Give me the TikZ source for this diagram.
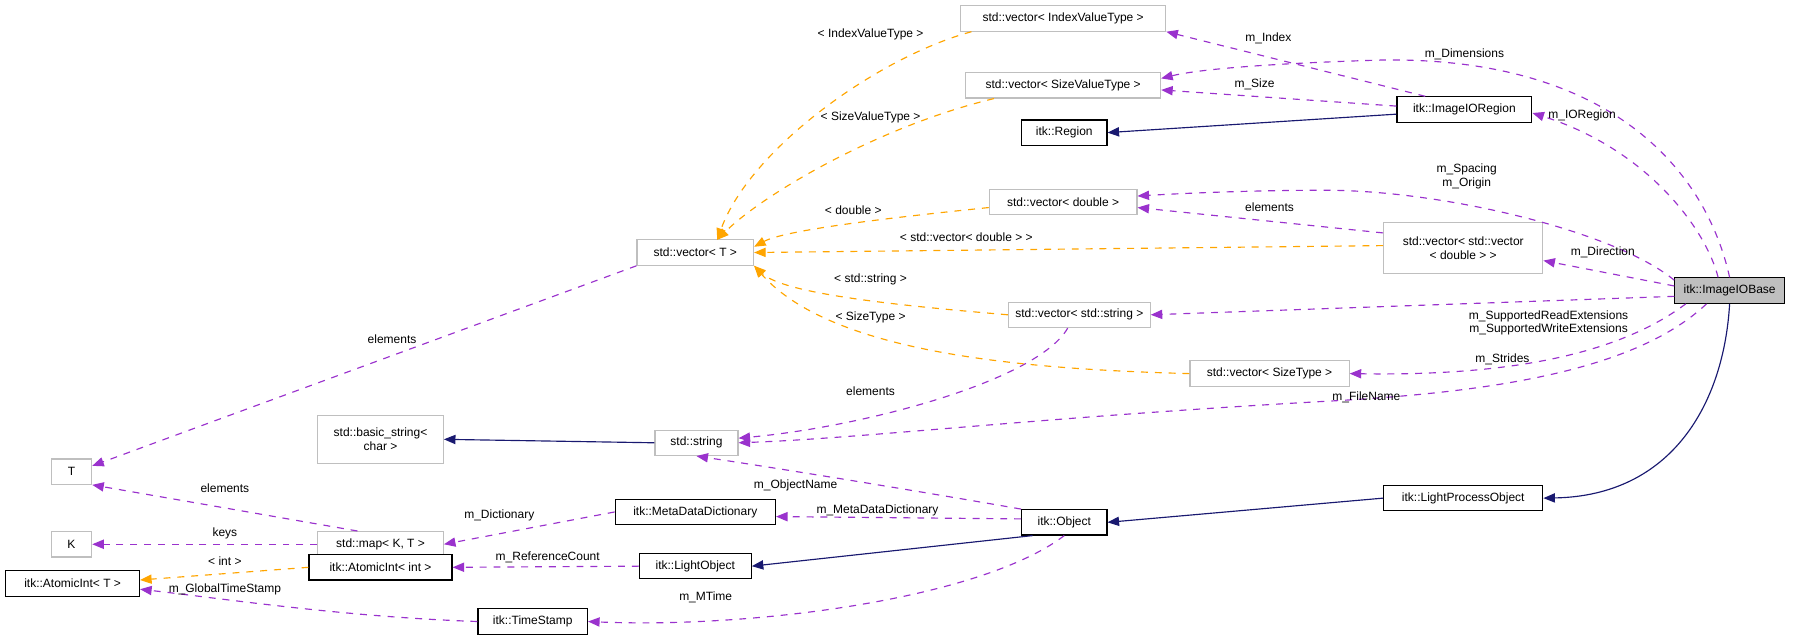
\documentclass[tikz,border=0pt]{standalone}
\usepackage{fontspec}
\setmainfont{Liberation Sans}
\usetikzlibrary{arrows.meta}
\definecolor{pur}{HTML}{9A32CD}
\definecolor{org}{HTML}{FFA500}
\definecolor{nav}{HTML}{191970}
\begin{document}
\begin{tikzpicture}[x=0.5pt,y=-0.5pt,font=\fontsize{5.2}{6}\selectfont,
 box/.style={draw=#1,fill=white,line width=0.5pt,minimum height=11pt,inner xsep=3pt,inner ysep=1pt,align=center},
 box/.default={black!25},
 bb/.style={box=black},
 use/.style={draw=pur,dashed,line width=0.5pt,-{Triangle[width=4pt,length=5pt]}},
 tmpl/.style={draw=org,dashed,line width=0.5pt,-{Triangle[width=4pt,length=5pt]}},
 inh/.style={draw=nav,line width=0.5pt,-{Triangle[width=4pt,length=5pt]}},
 lab/.style={inner sep=1pt,align=center}]
\useasboundingbox (0,0) rectangle (1568,552.5);
\node[box,minimum width=89pt] (ivt) at (922,16) {std::vector< IndexValueType >};
\node[box,minimum width=84.5pt] (svt) at (922,74) {std::vector< SizeValueType >};
\node[bb,minimum width=58.5pt] (ior) at (1270,95) {itk::ImageIORegion};
\node[bb,minimum width=37pt] (reg) at (923,115) {itk::Region};
\node[box,minimum width=64pt] (vd) at (922,175) {std::vector< double >};
\node[box,minimum width=69pt,minimum height=22pt] (vvd) at (1269,215) {std::vector< std::vector\\< double > >};
\node[box,minimum width=50.5pt] (vT) at (603,219) {std::vector< T >};
\node[box=black,fill=black!25,minimum width=47.5pt] (iob) at (1500,252) {itk::ImageIOBase};
\node[box,minimum width=59.5pt] (vs) at (936,273) {std::vector< std::string >};
\node[box,minimum width=69pt] (vst) at (1101,324) {std::vector< SizeType >};
\node[box,minimum width=17.5pt] (T) at (62,409) {T};
\node[box,minimum width=54.5pt,minimum height=21pt] (bs) at (330,381) {std::basic\_string<\\char >};
\node[box,minimum width=36pt] (str) at (604,384) {std::string};
\node[box,minimum width=17.5pt] (K) at (62,472) {K};
\node[box,minimum width=54.5pt] (map) at (330,472) {std::map< K, T >};
\node[bb,minimum width=69.5pt] (mdd) at (603,444) {itk::MetaDataDictionary};
\node[bb,minimum width=37pt] (obj) at (923,453) {itk::Object};
\node[bb,minimum width=69pt] (lpo) at (1269,432) {itk::LightProcessObject};
\node[bb,minimum width=58pt] (aT) at (63,506) {itk::AtomicInt< T >};
\node[bb,minimum width=62pt] (ai) at (330,492) {itk::AtomicInt< int >};
\node[bb,minimum width=48.5pt] (lo) at (603,491) {itk::LightObject};
\node[bb,minimum width=47.5pt] (ts) at (462,539) {itk::TimeStamp};

\draw[use] (ior.north west) ++(25,0) -- (ivt.south east);
\node[lab] at (1100,33) {m\_Index};
\draw[use] (iob.north) .. controls (1480,150) and (1400,50) .. (1200,52) .. controls (1100,55) and (1040,60) .. (svt.east|-0,68);
\node[lab] at (1270,47) {m\_Dimensions};
\draw[use] (ior.west|-0,92) -- (svt.east|-0,78);
\node[lab] at (1088,73) {m\_Size};
\draw[inh] (ior.west|-0,99) -- (reg.east);
\draw[use] (iob.north) ++(-10,0) .. controls (1480,200) and (1430,130) .. (ior.east|-0,98);
\node[lab] at (1372,100) {m\_IORegion};
\draw[use] (iob.west|-0,243) .. controls (1400,200) and (1250,165) .. (1150,165) .. controls (1080,165) and (1020,168) .. (vd.east|-0,170);
\node[lab] at (1272,153) {m\_Spacing\\m\_Origin};
\draw[use] (vvd.west|-0,202) -- (vd.east|-0,180);
\node[lab] at (1101,180) {elements};
\draw[use] (iob.west|-0,248) -- (vvd.east|-0,226);
\node[lab] at (1390,219) {m\_Direction};
\draw[use] (iob.west|-0,257) -- (vs.east);
\node[lab] at (1343,280) {m\_SupportedReadExtensions\\m\_SupportedWriteExtensions};
\draw[use] (iob.south west) ++(10,0) .. controls (1400,310) and (1300,326) .. (vst.east);
\node[lab] at (1303,312) {m\_Strides};
\draw[use] (iob.south) ++(-20,0) .. controls (1420,320) and (1300,340) .. (1150,348) .. controls (900,362) and (750,380) .. (str.east);
\node[lab] at (1185,345) {m\_FileName};
\draw[inh] (iob.south) .. controls (1495,350) and (1450,430) .. (lpo.east);
\draw[inh] (lpo.west) -- (obj.east);
\draw[inh] (obj.south west) ++(10,0) -- (lo.east);
\draw[use] (obj.north west) .. controls (820,430) and (700,410) .. (str.south);
\node[lab] at (690,421) {m\_ObjectName};
\draw[use] (obj.west|-0,450) -- (mdd.east|-0,448);
\node[lab] at (761,443) {m\_MetaDataDictionary};
\draw[use] (obj.south) .. controls (850,520) and (650,545) .. (ts.east);
\node[lab] at (612,518) {m\_MTime};
\draw[use] (mdd.west) -- (map.east);
\node[lab] at (433,447) {m\_Dictionary};
\draw[use] (map.west) -- (K.east);
\node[lab] at (195,463) {keys};
\draw[use] (map.north) ++(-20,0) -- (T.south east);
\node[lab] at (195,423) {elements};
\draw[use] (vT.south west) -- (T.east|-0,404);
\node[lab] at (340,294) {elements};
\draw[inh] (str.west) -- (bs.east);
\draw[use] (vs.south) ++(-10,0) .. controls (900,330) and (750,370) .. (str.east|-0,380);
\node[lab] at (755,339) {elements};
\draw[use] (lo.west) -- (ai.east);
\node[lab] at (475,483) {m\_ReferenceCount};
\draw[tmpl] (ai.west) -- (aT.east|-0,503);
\node[lab] at (195,487) {< int >};
\draw[use] (ts.west) .. controls (300,535) and (200,520) .. (aT.east|-0,511);
\node[lab] at (195,511) {m\_GlobalTimeStamp};
% templates
\coordinate (vtt) at (622,208);
\draw[tmpl] (ivt.south west) ++(10,0) .. controls (760,50) and (650,130) .. (vtt);
\node[lab] at (755,30) {< IndexValueType >};
\draw[tmpl] (svt.south west) ++(25,0) .. controls (760,110) and (660,170) .. (vtt);
\node[lab] at (755,102) {< SizeValueType >};
\draw[tmpl] (vd.west|-0,180) .. controls (760,190) and (680,200) .. (vT.east|-0,214);
\node[lab] at (740,182) {< double >};
\draw[tmpl] (vvd.west|-0,213) -- (vT.east|-0,219);
\node[lab] at (838,206) {< std::vector< double > >};
\draw[tmpl] (vs.west) .. controls (780,265) and (680,255) .. (vT.south east);
\node[lab] at (755,242) {< std::string >};
\draw[tmpl] (vst.west) .. controls (880,320) and (720,305) .. (vT.south east);
\node[lab] at (755,275) {< SizeType >};
\end{tikzpicture}
\end{document}
